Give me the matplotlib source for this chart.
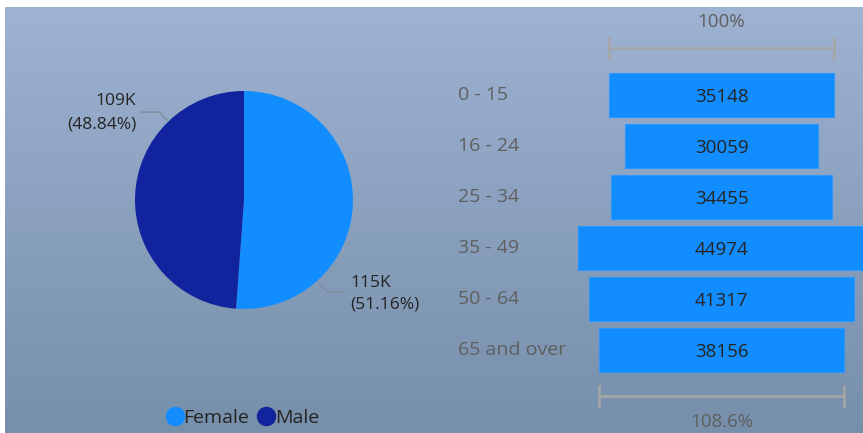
import numpy as np
import matplotlib
matplotlib.use("Agg")
import matplotlib.pyplot as plt
from matplotlib.lines import Line2D

plt.rcParams['font.family'] = ['Open Sans', 'DejaVu Sans']

# ---- data ----
genders = ["Female", "Male"]
gender_counts = [114654, 109455]
gender_colors = ["#118DFF", "#12239E"]

age_groups = ["0 - 15", "16 - 24", "25 - 34", "35 - 49", "50 - 64", "65 and over"]
age_counts = [35148, 30059, 34455, 44974, 41317, 38156]

W, H = 863, 433
fig = plt.figure(figsize=(W / 100, H / 100), dpi=100)
fig.patch.set_facecolor("white")

# ---- gradient background panel ----
bg = fig.add_axes([5 / W, 0, (W - 5) / W, (H - 7) / H])
top = np.array([158, 178, 210]) / 255
bot = np.array([118, 143, 170]) / 255
t = np.linspace(0, 1, 256)[:, None]
grad = (top[None, :] * (1 - t) + bot[None, :] * t)[:, None, :]
bg.imshow(grad, aspect="auto", extent=[0, 1, 0, 1], interpolation="bicubic")
bg.set_axis_off()

text_dark = "#252423"
text_gray = "#5F5F5F"
line_gray = "#A6A6A6"

# ---- pie ----
cx, cy, R = 244, 200, 109
span = 1.6
side = 2 * span * R
pax = fig.add_axes([(cx - side / 2) / W, (H - cy - side / 2) / H, side / W, side / H])
pax.pie(gender_counts, colors=gender_colors, startangle=90, counterclock=False,
        radius=1, wedgeprops=dict(linewidth=0))
pax.set_xlim(-span, span)
pax.set_ylim(-span, span)
pax.set_aspect("equal")
pax.set_axis_off()

total = sum(gender_counts)
def pie_label(i):
    v = gender_counts[i]
    return f"{v / 1000:.0f}K", f"({v / total * 100:.2f}%)"

# Female label (lower right)
k, p = pie_label(0)
pax.plot([0.679, 0.771, 0.917], [-0.761, -0.844, -0.844], color="#7F8C99", lw=1)
pax.text(0.972, -0.761, k, ha="left", va="center", fontsize=12.5, color=text_dark)
pax.text(0.972, -0.963, p, ha="left", va="center", fontsize=12.5, color=text_dark)
# Male label (upper left)
k, p = pie_label(1)
pax.plot([-0.945, -0.780, -0.706], [0.807, 0.807, 0.734], color="#7F8C99", lw=1)
pax.text(-0.99, 0.908, k, ha="right", va="center", fontsize=12.5, color=text_dark)
pax.text(-0.99, 0.697, p, ha="right", va="center", fontsize=12.5, color=text_dark)

handles = [Line2D([], [], marker="o", linestyle="", markersize=13, color=c) for c in gender_colors]
fig.legend(handles, genders, loc="center", bbox_to_anchor=(241 / W, (H - 418) / H),
           ncol=2, frameon=False, fontsize=14, handletextpad=-0.15, columnspacing=0.25,
           labelcolor=text_dark, borderpad=0, handlelength=1.2)

# ---- funnel ----
ax_l, ax_r = 440, W
center_px = 721.5
scale = 225 / age_counts[0]            # px per unit
row_px, first_row_px = 51, 95
ax_top, ax_bot = 7, H
fax = fig.add_axes([ax_l / W, 0, (ax_r - ax_l) / W, (ax_bot - ax_top) / H])
fax.set_xlim(-(center_px - ax_l) / scale, (ax_r - center_px) / scale)
fax.set_ylim((ax_bot - first_row_px) / row_px, (ax_top - first_row_px) / row_px)
fax.set_axis_off()

vals = np.array(age_counts, dtype=float)
ypos = np.arange(len(vals))
fax.barh(ypos, vals, left=-vals / 2, height=0.88, color="#118DFF",
         edgecolor="#2A98FF", linewidth=0.8)
for y, v in zip(ypos, age_counts):
    fax.text(0, y + 0.03, f"{v}", ha="center", va="center", fontsize=13.5, color=text_dark)
for y, lab in zip(ypos, age_groups):
    fax.text(18 / (ax_r - ax_l), y, lab, ha="left", va="center", fontsize=14,
             color=text_gray, transform=fax.get_yaxis_transform())

def bracket(v, yline, ytext, label):
    h = 11.5 / row_px
    fax.plot([-v / 2, v / 2], [yline, yline], color=line_gray, lw=1.8, solid_capstyle="butt")
    for x in (-v / 2, v / 2):
        fax.plot([x, x], [yline - h, yline + h], color=line_gray, lw=1.8, solid_capstyle="butt")
    fax.text(0, ytext, label, ha="center", va="center", fontsize=13.5, color=text_gray)

bracket(vals[0], (48 - first_row_px) / row_px, (22 - first_row_px) / row_px, "100%")
pct = vals[-1] / vals[0] * 100
bracket(vals[-1], (396 - first_row_px) / row_px, (422 - first_row_px) / row_px, f"{pct:.1f}%")

fig.savefig("out.png", dpi=100)
